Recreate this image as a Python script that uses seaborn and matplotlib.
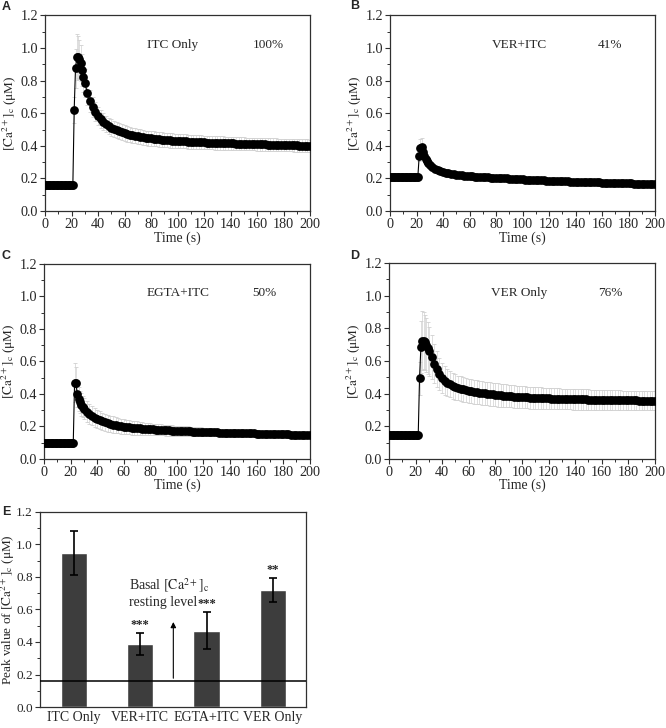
import numpy as np
import pandas as pd
import seaborn as sns
import matplotlib.pyplot as plt
from matplotlib.ticker import MultipleLocator, FormatStrFormatter

sns.set_style("ticks")
plt.rcParams['font.family'] = ['Liberation Serif', 'DejaVu Serif']
plt.rcParams['mathtext.fontset'] = 'stix'

# sampling times (s): 1 s steps up to 30, then 2 s steps
TIME = list(range(0, 31)) + list(range(32, 201, 2))

# mean [Ca2+]c traces (uM): baseline, rise/peak, 32-80 s, 82-200 s
ITC_ONLY = [0.16] * 22 + [0.62, 0.875, 0.945, 0.945, 0.93, 0.905, 0.865, 0.82, 0.785] + [
  0.725, 0.675, 0.64, 0.61, 0.585, 0.565, 0.548, 0.534, 0.522, 0.512, 0.503, 0.496, 0.489,
  0.483, 0.478, 0.473, 0.469, 0.465, 0.461, 0.458, 0.455, 0.452, 0.449, 0.447, 0.445] + [
  0.443, 0.441, 0.440, 0.438, 0.436, 0.435, 0.433, 0.432, 0.431, 0.430,
  0.429, 0.428, 0.427, 0.426, 0.425, 0.424, 0.423, 0.422, 0.422, 0.421,
  0.420, 0.419, 0.419, 0.418, 0.418, 0.417, 0.417, 0.416, 0.416, 0.415,
  0.415, 0.414, 0.414, 0.413, 0.413, 0.412, 0.412, 0.411, 0.411, 0.410,
  0.410, 0.409, 0.409, 0.408, 0.408, 0.407, 0.407, 0.406, 0.406, 0.405,
  0.405, 0.404, 0.404, 0.403, 0.403, 0.402, 0.402, 0.401, 0.401, 0.400]
ITC_ONLY_SD = [0.01] * 22 + [0.08, 0.12, 0.14, 0.13, 0.12, 0.11, 0.10, 0.09, 0.085] + [
  0.075, 0.068, 0.062, 0.058, 0.055, 0.053, 0.052, 0.051, 0.05, 0.05, 0.049, 0.049, 0.048,
  0.048, 0.048, 0.047, 0.047, 0.047, 0.046, 0.046, 0.046, 0.046, 0.045, 0.045, 0.045] + [
  0.045, 0.045, 0.045, 0.045, 0.044, 0.044, 0.044, 0.044, 0.044, 0.043,
  0.043, 0.043, 0.043, 0.043, 0.042, 0.042, 0.042, 0.042, 0.042, 0.042,
  0.042, 0.041, 0.041, 0.041, 0.041, 0.041, 0.041, 0.040, 0.040, 0.040,
  0.040, 0.040, 0.040, 0.040, 0.040, 0.039, 0.039, 0.039, 0.039, 0.039,
  0.039, 0.039, 0.039, 0.039, 0.039, 0.038, 0.038, 0.038, 0.038, 0.038,
  0.038, 0.038, 0.038, 0.038, 0.038, 0.038, 0.038, 0.038, 0.038, 0.038]

VER_ITC = [0.21] * 22 + [0.335, 0.385, 0.39, 0.365, 0.34, 0.32, 0.305, 0.292, 0.282] + [
  0.268, 0.257, 0.249, 0.243, 0.238, 0.234, 0.231, 0.228, 0.226, 0.224, 0.222, 0.220, 0.218,
  0.216, 0.215, 0.213, 0.212, 0.211, 0.210, 0.209, 0.208, 0.207, 0.206, 0.205, 0.204] + [
  0.203, 0.202, 0.201, 0.200, 0.199, 0.198, 0.197, 0.196, 0.195, 0.194,
  0.193, 0.192, 0.192, 0.191, 0.190, 0.189, 0.189, 0.188, 0.187, 0.186,
  0.186, 0.185, 0.185, 0.184, 0.184, 0.183, 0.182, 0.181, 0.181, 0.180,
  0.180, 0.179, 0.179, 0.178, 0.178, 0.177, 0.177, 0.176, 0.176, 0.175,
  0.175, 0.174, 0.174, 0.173, 0.173, 0.172, 0.172, 0.171, 0.171, 0.170,
  0.170, 0.169, 0.169, 0.168, 0.168, 0.167, 0.167, 0.166, 0.166, 0.165]
VER_ITC_SD = [0.005] * 22 + [0.03, 0.055, 0.06, 0.045, 0.035, 0.03, 0.026, 0.023, 0.021] + [
  0.02, 0.019, 0.018, 0.018, 0.017, 0.017, 0.016, 0.016, 0.016, 0.015, 0.015, 0.015, 0.015,
  0.014, 0.014, 0.014, 0.014, 0.014, 0.013, 0.013, 0.013, 0.013, 0.013, 0.013, 0.013] + [
  0.013, 0.013, 0.012, 0.012, 0.012, 0.012, 0.012, 0.012, 0.012, 0.012,
  0.012, 0.012, 0.012, 0.012, 0.012, 0.011, 0.011, 0.011, 0.011, 0.011,
  0.011, 0.011, 0.011, 0.011, 0.011, 0.011, 0.011, 0.011, 0.011, 0.011,
  0.011, 0.011, 0.010, 0.010, 0.010, 0.010, 0.010, 0.010, 0.010, 0.010,
  0.010, 0.010, 0.010, 0.010, 0.010, 0.010, 0.010, 0.010, 0.010, 0.010,
  0.010, 0.010, 0.010, 0.010, 0.010, 0.010, 0.010, 0.010, 0.010, 0.010]

EGTA_ITC = [0.10] * 23 + [0.47, 0.465, 0.40, 0.37, 0.35, 0.335, 0.322, 0.31] + [
  0.292, 0.277, 0.265, 0.255, 0.246, 0.238, 0.232, 0.226, 0.221, 0.216, 0.212, 0.208, 0.205,
  0.202, 0.199, 0.197, 0.195, 0.193, 0.191, 0.190, 0.188, 0.187, 0.185, 0.184, 0.183] + [
  0.182, 0.181, 0.180, 0.179, 0.178, 0.177, 0.176, 0.175, 0.175, 0.174,
  0.173, 0.172, 0.172, 0.171, 0.170, 0.169, 0.169, 0.168, 0.168, 0.167,
  0.167, 0.166, 0.165, 0.164, 0.164, 0.163, 0.163, 0.162, 0.162, 0.161,
  0.161, 0.160, 0.160, 0.159, 0.159, 0.158, 0.158, 0.157, 0.157, 0.156,
  0.156, 0.155, 0.155, 0.154, 0.154, 0.153, 0.153, 0.153, 0.152, 0.152,
  0.151, 0.151, 0.150, 0.150, 0.150, 0.150, 0.149, 0.149, 0.148, 0.148]
EGTA_ITC_SD = [0.005] * 23 + [0.12, 0.10, 0.08, 0.075, 0.07, 0.068, 0.066, 0.064] + [
  0.062, 0.06, 0.058, 0.057, 0.056, 0.055, 0.054, 0.053, 0.052, 0.051, 0.05, 0.049, 0.048,
  0.047, 0.046, 0.045, 0.044, 0.043, 0.042, 0.041, 0.040, 0.039, 0.038, 0.037, 0.036] + [
  0.035, 0.035, 0.034, 0.034, 0.033, 0.033, 0.032, 0.032, 0.031, 0.031,
  0.030, 0.030, 0.029, 0.029, 0.028, 0.028, 0.027, 0.027, 0.026, 0.026,
  0.026, 0.026, 0.025, 0.025, 0.024, 0.024, 0.024, 0.024, 0.023, 0.023,
  0.022, 0.022, 0.022, 0.022, 0.021, 0.021, 0.021, 0.021, 0.020, 0.020,
  0.020, 0.020, 0.019, 0.019, 0.019, 0.019, 0.018, 0.018, 0.018, 0.018,
  0.017, 0.017, 0.017, 0.017, 0.016, 0.016, 0.016, 0.016, 0.015, 0.015]

VER_ONLY = [0.145] * 23 + [0.495, 0.685, 0.725, 0.725, 0.715, 0.70, 0.68, 0.66] + [
  0.625, 0.585, 0.55, 0.52, 0.497, 0.48, 0.467, 0.457, 0.448, 0.441, 0.435, 0.430, 0.426,
  0.422, 0.418, 0.415, 0.412, 0.409, 0.407, 0.404, 0.402, 0.400, 0.398, 0.396, 0.394] + [
  0.392, 0.391, 0.389, 0.388, 0.386, 0.385, 0.383, 0.382, 0.380, 0.379,
  0.378, 0.377, 0.376, 0.375, 0.374, 0.374, 0.373, 0.372, 0.371, 0.371,
  0.370, 0.370, 0.369, 0.369, 0.368, 0.368, 0.367, 0.367, 0.366, 0.366,
  0.365, 0.365, 0.365, 0.365, 0.364, 0.364, 0.364, 0.363, 0.363, 0.362,
  0.362, 0.362, 0.362, 0.361, 0.361, 0.361, 0.360, 0.360, 0.360, 0.359,
  0.359, 0.359, 0.359, 0.358, 0.358, 0.358, 0.358, 0.357, 0.357, 0.357]
VER_ONLY_SD = [0.01] * 23 + [0.10, 0.16, 0.18, 0.175, 0.17, 0.165, 0.16, 0.15] + [
  0.135, 0.12, 0.11, 0.10, 0.092, 0.087, 0.083, 0.08, 0.078, 0.077, 0.076, 0.076, 0.075,
  0.075, 0.074, 0.074, 0.073, 0.073, 0.073, 0.072, 0.072, 0.072, 0.071, 0.071, 0.071] + [
  0.071, 0.070, 0.070, 0.070, 0.069, 0.069, 0.069, 0.068, 0.068, 0.068,
  0.068, 0.067, 0.067, 0.067, 0.066, 0.066, 0.066, 0.066, 0.065, 0.065,
  0.065, 0.065, 0.064, 0.064, 0.064, 0.064, 0.063, 0.063, 0.063, 0.063,
  0.062, 0.062, 0.062, 0.062, 0.062, 0.061, 0.061, 0.061, 0.061, 0.061,
  0.061, 0.060, 0.060, 0.060, 0.060, 0.060, 0.060, 0.059, 0.059, 0.059,
  0.059, 0.059, 0.059, 0.058, 0.058, 0.058, 0.058, 0.058, 0.058, 0.058]

# panel E
GROUPS = ["ITC Only", "VER+ITC", "EGTA+ITC", "VER Only"]
PEAK = [0.945, 0.387, 0.470, 0.722]
PEAK_SD = [0.135, 0.070, 0.115, 0.073]
STARS = ["", "***", "***", "**"]
BASAL = 0.16

LABEL_CA = "$[\\mathrm{Ca}^{2+}]_\\mathrm{c}$ (\u03bcM)"
SPINE = '#303030'


def _style(ax, tick_size):
  for s in ax.spines.values():
    s.set_visible(True)
    s.set_color(SPINE)
    s.set_linewidth(0.9)
  ax.set_ylim(0, 1.2)
  ax.yaxis.set_major_locator(MultipleLocator(0.2))
  ax.yaxis.set_minor_locator(MultipleLocator(0.1))
  ax.yaxis.set_major_formatter(FormatStrFormatter('%.1f'))
  ax.tick_params(which='major', direction='out', length=3.5, width=0.8, labelsize=tick_size,
                 pad=1.5, top=False, right=False, color=SPINE)
  ax.tick_params(which='minor', direction='out', length=2, width=0.7, top=False, right=False,
                 color=SPINE)


def _trace(ax, vals, err, name, pct):
  d = pd.DataFrame({"TIME": TIME, "CA": vals, "SD": err})
  ax.errorbar(d["TIME"], d["CA"], yerr=d["SD"], fmt='none', ecolor='#d0d0d0', elinewidth=0.5,
              capsize=1.6, capthick=0.6, zorder=1)
  sns.lineplot(data=d, x="TIME", y="CA", ax=ax, color='black', linewidth=0.8, marker='o',
               markersize=6.3, markeredgewidth=0, zorder=3)
  _style(ax, 10.2)
  ax.set_xlim(0, 200)
  ax.xaxis.set_major_locator(MultipleLocator(20))
  ax.xaxis.set_minor_locator(MultipleLocator(10))
  ax.set_xlabel("Time (s)", fontsize=10, labelpad=0)
  ax.set_ylabel(LABEL_CA, fontsize=9.5)
  ax.yaxis.set_label_coords(-0.097, 0.5)
  ax.text(77, 1.02, name, fontsize=9.5, va='center', ha='left')
  ax.text(157, 1.02, pct, fontsize=9.5, va='center', ha='left')


def main():
  fig = plt.figure(figsize=(6.66, 7.28), dpi=100)

  ax_a = fig.add_axes([0.0676, 0.710, 0.398, 0.269])
  ax_b = fig.add_axes([0.5856, 0.710, 0.398, 0.269])
  ax_c = fig.add_axes([0.0661, 0.3695, 0.399, 0.268])
  ax_d = fig.add_axes([0.584, 0.3695, 0.3995, 0.269])
  ax_e = fig.add_axes([0.060, 0.0288, 0.3995, 0.268])

  _trace(ax_a, ITC_ONLY, ITC_ONLY_SD, "ITC Only", "100%")
  _trace(ax_b, VER_ITC, VER_ITC_SD, "VER+ITC", "41%")
  _trace(ax_c, EGTA_ITC, EGTA_ITC_SD, "EGTA+ITC", "50%")
  _trace(ax_d, VER_ONLY, VER_ONLY_SD, "VER Only", "76%")

  # peak values
  bars = pd.DataFrame({"GROUP": GROUPS, "PEAK": PEAK})
  sns.barplot(data=bars, x="GROUP", y="PEAK", ax=ax_e, color='#3d3d3d', saturation=1,
              width=0.4, errorbar=None, zorder=2)
  ax_e.errorbar(range(len(GROUPS)), PEAK, yerr=PEAK_SD, fmt='none', ecolor='black',
                elinewidth=1.2, capsize=2.8, capthick=1.2, zorder=3)
  ax_e.axhline(BASAL, color='black', lw=1.1, zorder=4)
  for i, s in enumerate(STARS):
    if s:
      ax_e.text(i, PEAK[i] + PEAK_SD[i] + 0.012, s, ha='center', va='bottom', fontsize=9,
                fontweight='bold')
  ax_e.annotate('', xy=(1.5, 0.54), xytext=(1.5, BASAL),
                arrowprops=dict(arrowstyle='-|>', color='black', lw=0.8, mutation_scale=8))
  ax_e.text(0.83, 0.716, "Basal $[\\mathrm{Ca}^{2+}]_\\mathrm{c}$", fontsize=10, va='baseline')
  ax_e.text(0.83, 0.62, "resting level", fontsize=10, va='baseline')
  _style(ax_e, 9.5)
  ax_e.set_xlim(-0.51, 3.5)
  ax_e.tick_params(axis='x', length=0, labelsize=10, pad=3)
  ax_e.set_xlabel("")
  ax_e.set_ylabel("Peak value of " + LABEL_CA, fontsize=9.5)
  ax_e.yaxis.set_label_coords(-0.085, 0.5)

  for letter, x, y in [("A", 2, 7), ("B", 350, 6), ("C", 2, 256), ("D", 350, 256), ("E", 2, 512)]:
    fig.text(x / 666, 1 - y / 728, letter, family='Liberation Sans', fontweight='bold',
             fontsize=9, ha='left', va='center')

  fig.savefig("out.png", dpi=100)


if __name__ == "__main__":
  main()
